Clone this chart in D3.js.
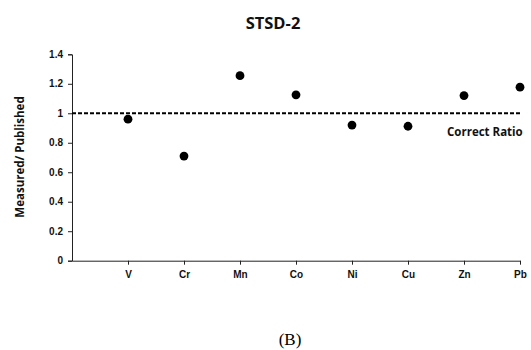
<!DOCTYPE html>
<html>
<head>
<meta charset="utf-8">
<script src="https://cdn.jsdelivr.net/npm/d3@7"></script>
<style>
  body { margin: 0; background: #fff; }
  svg { display: block; font-family: "Open Sans", Lato, sans-serif; }
  .tick text { font-weight: bold; font-size: 10px; fill: #111; }
</style>
</head>
<body>
<svg id="chart" width="531" height="350"></svg>
<script>
var elements = ["V", "Cr", "Mn", "Co", "Ni", "Cu", "Zn", "Pb"];
var ratios = [0.96, 0.71, 1.255, 1.125, 0.92, 0.912, 1.12, 1.177];
var yTicks = [0, 0.2, 0.4, 0.6, 0.8, 1, 1.2, 1.4];
var correctRatio = 1;

var svg = d3.select("#chart");

// blank slot at the origin so V sits one step in
var x = d3.scalePoint().domain([""].concat(elements)).range([72, 520]).padding(0);
var y = d3.scaleLinear().domain([0, 1.4]).range([260.7, 54.3]);

svg.append("g")
  .attr("transform", "translate(72,0)")
  .call(d3.axisLeft(y).tickValues(yTicks).tickSize(4).tickPadding(5).tickFormat(d3.format("")))
  .call(g => g.select(".domain").attr("stroke", "#222"))
  .call(g => g.selectAll(".tick line").attr("stroke", "#222"));

svg.append("g")
  .attr("transform", "translate(0,260.7)")
  .call(d3.axisBottom(x).tickSize(4).tickSizeOuter(0).tickPadding(6))
  .call(g => g.select(".domain").attr("stroke", "#222"))
  .call(g => g.selectAll(".tick line").attr("stroke", "#222"))
  .call(g => g.selectAll(".tick").filter(d => d === "").select("line").remove());

svg.append("line")
  .attr("x1", x(""))
  .attr("x2", x("Pb"))
  .attr("y1", y(correctRatio))
  .attr("y2", y(correctRatio))
  .attr("stroke", "#000")
  .attr("stroke-width", 2)
  .attr("stroke-dasharray", "4,2");

svg.append("text")
  .attr("x", 447)
  .attr("y", 136)
  .attr("font-size", 11.5)
  .attr("font-weight", "bold")
  .attr("fill", "#111")
  .text("Correct Ratio");

svg.append("g").selectAll("circle")
  .data(elements)
  .join("circle")
  .attr("cx", d => x(d))
  .attr("cy", (d, i) => y(ratios[i]))
  .attr("r", 4.4)
  .attr("fill", "#000");

svg.append("text")
  .attr("x", 273)
  .attr("y", 29)
  .attr("text-anchor", "middle")
  .attr("font-size", 16.5)
  .attr("font-weight", "bold")
  .attr("fill", "#111")
  .text("STSD-2");

svg.append("text")
  .attr("transform", "translate(24,157) rotate(-90)")
  .attr("text-anchor", "middle")
  .attr("font-size", 11.5)
  .attr("font-weight", "bold")
  .attr("fill", "#111")
  .text("Measured/ Published");

svg.append("text")
  .attr("x", 290)
  .attr("y", 345)
  .attr("text-anchor", "middle")
  .attr("font-family", "'Liberation Serif', 'DejaVu Serif', serif")
  .attr("font-size", 17)
  .attr("fill", "#000")
  .text("(B)");
</script>
</body>
</html>
